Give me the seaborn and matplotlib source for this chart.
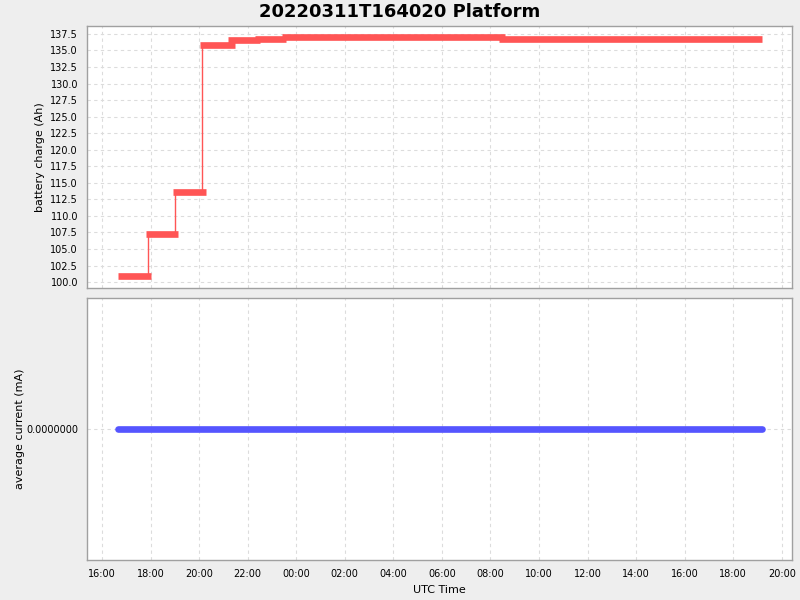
import numpy as np
import pandas as pd
import matplotlib
matplotlib.use("Agg")
import matplotlib.pyplot as plt
import matplotlib.dates as mdates
import seaborn as sns


# data
seg_start = ['2022-03-11 16:40', '2022-03-11 17:48', '2022-03-11 18:55', '2022-03-11 20:01',
             '2022-03-11 21:11', '2022-03-11 22:19', '2022-03-11 23:24', '2022-03-12 08:22']
seg_end = ['2022-03-11 18:02', '2022-03-11 19:09', '2022-03-11 20:18', '2022-03-11 21:28',
           '2022-03-11 22:31', '2022-03-11 23:34', '2022-03-12 08:37', '2022-03-12 19:11']
charge_ah = [100.9, 107.3, 113.6, 135.85, 136.6, 136.75, 136.97, 136.72]
current_ma = [0.0, 0.0, 0.0, 0.0, 0.0, 0.0, 0.0, 0.0, 0.0]

title = '20220311T164020 Platform'
red = '#ff5555'
blue = '#5555ff'

df = pd.DataFrame({'start': pd.to_datetime(seg_start),
                   'end': pd.to_datetime(seg_end),
                   'charge': charge_ah})
cur = pd.DataFrame({'time': list(df['start']) + [df['end'].iloc[-1]],
                    'current': current_ma})

sns.set_style('white')
plt.rcParams['font.family'] = ['DejaVu Sans']
plt.rcParams['text.color'] = 'black'
plt.rcParams['axes.labelcolor'] = 'black'
plt.rcParams['xtick.color'] = 'black'
plt.rcParams['ytick.color'] = 'black'

fig = plt.figure(figsize=(8, 6), dpi=100, facecolor='#eeeeee')
ax1 = fig.add_axes([87/800, 1-288/600, 705/800, 262/600])
ax2 = fig.add_axes([87/800, 1-560/600, 705/800, 262/600], sharex=ax1)

# connectors between successive charge levels (drawn slightly after next start)
conn_x = df['start'].iloc[1:] + pd.Timedelta(minutes=6)
ax1.vlines(conn_x, df['charge'].iloc[:-1].values, df['charge'].iloc[1:].values,
           color=red, lw=1.0, zorder=2)
ax1.hlines(df['charge'], df['start'], df['end'], color=red, lw=4.8,
           zorder=3, capstyle='butt')

sns.lineplot(data=cur, x='time', y='current', ax=ax2, color=blue, lw=4.8,
             solid_capstyle='round')

for ax in (ax1, ax2):
    ax.set_facecolor('white')
    ax.grid(True, color='#dcdcdc', ls=(0, (3, 3)), lw=0.8)
    for s in ax.spines.values():
        s.set_color('#a0a0a0')
        s.set_linewidth(1.0)
    ax.tick_params(labelsize=7, length=3, color='#808080', width=0.8)

ax1.set_ylim(99.1, 138.7)
ax1.set_yticks(np.arange(100, 137.6, 2.5))
ax1.yaxis.set_major_formatter(matplotlib.ticker.FormatStrFormatter('%.1f'))
ax1.tick_params(axis='x', bottom=False, labelbottom=False)
ax1.set_ylabel('battery charge (Ah)', fontsize=8)
ax1.set_xlabel('')

ax2.set_ylim(-1, 1)
ax2.set_yticks([0])
ax2.yaxis.set_major_formatter(matplotlib.ticker.FormatStrFormatter('%.7f'))
ax2.set_ylabel('average current (mA)', fontsize=8, labelpad=1)
ax2.set_xlabel('UTC Time', fontsize=8)

ax2.set_xlim(pd.Timestamp('2022-03-11 15:23'), pd.Timestamp('2022-03-12 20:25'))
ax2.xaxis.set_major_locator(mdates.HourLocator(byhour=range(0, 24, 2)))
ax2.xaxis.set_major_formatter(mdates.DateFormatter('%H:%M'))

fig.text(400/800, 1-12/600, title, ha='center', va='center',
         fontsize=13, fontweight='bold')

fig.savefig('out.png', dpi=100, facecolor=fig.get_facecolor())
